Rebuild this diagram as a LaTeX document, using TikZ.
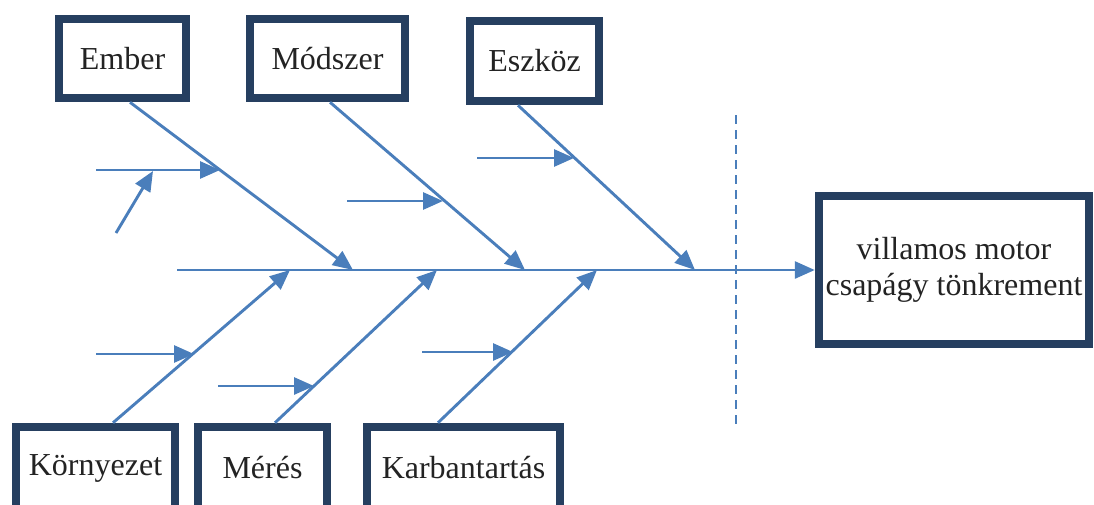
\documentclass[tikz,border=0pt]{standalone}
\usepackage{fontspec}
\setmainfont{Liberation Serif}
\usetikzlibrary{arrows.meta,calc}
\definecolor{boxblue}{RGB}{38,63,96}
\definecolor{lineblue}{RGB}{74,126,187}
\definecolor{txt}{RGB}{35,35,35}
\begin{document}
\begin{tikzpicture}[x=1pt,y=-1pt,
  cbox/.style={draw=boxblue, line width=8.5pt, fill=white, text=txt,
    font=\fontsize{32}{36}\selectfont, align=center, inner sep=0pt},
  bone/.style={draw=lineblue, line width=2.9pt},
  arr/.style={bone, -{Triangle[length=20pt,width=17pt]}}]
\useasboundingbox (0,0) rectangle (1094,504);
\clip (0,0) rectangle (1094,504);
% boxes
\node[cbox, minimum width=127pt, minimum height=79pt] (ember) at (122.5,58.5) {Ember};
\node[cbox, minimum width=155pt, minimum height=79pt] (modszer) at (327.5,58.5) {Módszer};
\node[cbox, minimum width=129pt, minimum height=80pt] (eszkoz) at (534.5,61) {Eszköz};
\node[cbox, minimum width=270pt, minimum height=148pt] (effect) at (954,270) {villamos motor\\csapágy tönkrement};
\node[cbox, minimum width=159pt, minimum height=82pt] (kornyezet) at (95.5,468) {Környezet};
\node[cbox, minimum width=129pt, minimum height=82pt] (meres) at (262.5,468) {Mérés};
\node[cbox, minimum width=193pt, minimum height=82pt] (karb) at (463.5,468) {Karbantartás};
% spine
\coordinate (spine0) at (177,270);
\draw[arr] (spine0) -- (effect.west);
% dashed line
\coordinate (d1) at (736,115);
\coordinate (d2) at (736,428);
\draw[bone, dash pattern=on 9pt off 6pt] (d1) -- (d2);
% points on spine
\coordinate (s1) at (353,270);
\coordinate (s2) at (525,270);
\coordinate (s3) at (695,270);
\coordinate (s4) at (290,270);
\coordinate (s5) at (437,270);
\coordinate (s6) at (597,270);
% main bones
\draw[arr] ([xshift=7.5pt]ember.south) -- (s1);
\draw[arr] ([xshift=2.5pt]modszer.south) -- (s2);
\draw[arr] ([xshift=-16.5pt]eszkoz.south) -- (s3);
\draw[arr] ([xshift=17.5pt]kornyezet.north) -- (s4);
\draw[arr] ([xshift=12.5pt]meres.north) -- (s5);
\draw[arr] ([xshift=-25.5pt]karb.north) -- (s6);
% sub-causes
\coordinate (a1) at (96,170);   \coordinate (b1) at (220,170);
\coordinate (a1s) at (116,233); \coordinate (b1s) at (153,171);
\coordinate (a2) at (347,201);  \coordinate (b2) at (443,201);
\coordinate (a3) at (477,158);  \coordinate (b3) at (574,158);
\coordinate (a4) at (96,354);   \coordinate (b4) at (194,354);
\coordinate (a5) at (218,386);  \coordinate (b5) at (314,386);
\coordinate (a6) at (422,352);  \coordinate (b6) at (513,352);
\draw[arr] (a1) -- (b1);
\draw[arr] (a1s) -- (b1s);
\draw[arr] (a2) -- (b2);
\draw[arr] (a3) -- (b3);
\draw[arr] (a4) -- (b4);
\draw[arr] (a5) -- (b5);
\draw[arr] (a6) -- (b6);
\end{tikzpicture}
\end{document}
